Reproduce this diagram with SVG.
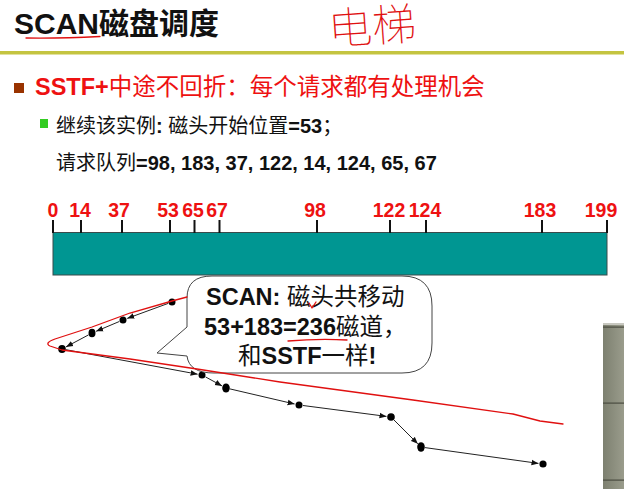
<svg xmlns="http://www.w3.org/2000/svg" width="624" height="489" viewBox="0 0 624 489">
<defs>
<marker id="arr" viewBox="0 0 10 10" refX="10" refY="5" markerWidth="7" markerHeight="7" orient="auto" markerUnits="userSpaceOnUse">
<path d="M0,1 L10,5 L0,9 Z" fill="#111"/>
</marker>
<linearGradient id="photo" x1="0" y1="0" x2="1" y2="0">
<stop offset="0" stop-color="#7d8070"/>
<stop offset="1" stop-color="#9a9c8c"/>
</linearGradient>
</defs>
<style>
text{font-family:"Liberation Sans","Noto Sans CJK SC",sans-serif}
.b{font-weight:bold}
.tick{stroke:#111;stroke-width:2}
.lbl{fill:#ee1111;font-weight:bold;font-size:19.5px;text-anchor:middle}
.seg{stroke:#222;stroke-width:1;fill:none;marker-end:url(#arr)}
.dot{fill:#000}
.red{stroke:#e01010;stroke-width:1.3;fill:none;stroke-linecap:round;stroke-linejoin:round}
</style>
<rect width="624" height="489" fill="#ffffff"/>

<g id="title">
<text x="14" y="34" font-size="30" class="b" fill="#111">SCAN磁盘调度</text>
<path class="red" d="M26,38 Q60,38.5 100,36.5"/>
<text x="328" y="42" font-size="44" fill="#e01010" font-weight="100" transform="rotate(-4 375 25)">电梯</text>
</g>
<rect x="0" y="51" width="624" height="3.5" fill="#c4c440"/>

<g id="bullet1">
<rect x="14" y="83" width="10" height="10" fill="#993300"/>
<text x="35" y="95" font-size="23.5" fill="#ee1111"><tspan class="b">SSTF+</tspan>中途不回折：每个请求都有处理机会</text>
</g>
<g id="bullet2">
<rect x="40" y="119" width="8" height="9" fill="#33cc22"/>
<text x="56" y="133" font-size="20" fill="#111">继续该实例<tspan class="b">: </tspan>磁头开始位置<tspan class="b">=53</tspan>；</text>
<text x="56" y="170" font-size="20" fill="#111">请求队列<tspan class="b">=98, 183, 37, 122, 14, 124, 65, 67</tspan></text>
</g>

<g id="disk">
<rect x="53" y="232.5" width="554" height="42.5" fill="#009692" stroke="#3a4a4a" stroke-width="1"/>
<line class="tick" x1="53" y1="220" x2="53" y2="233"/>
<line class="tick" x1="81" y1="220" x2="81" y2="233"/>
<line class="tick" x1="122" y1="220" x2="122" y2="233"/>
<line class="tick" x1="170" y1="220" x2="170" y2="233"/>
<line class="tick" x1="194.5" y1="220" x2="194.5" y2="233"/>
<line class="tick" x1="219.5" y1="220" x2="219.5" y2="233"/>
<line class="tick" x1="317" y1="220" x2="317" y2="233"/>
<line class="tick" x1="390" y1="220" x2="390" y2="233"/>
<line class="tick" x1="426" y1="220" x2="426" y2="233"/>
<line class="tick" x1="542" y1="220" x2="542" y2="233"/>
<line class="tick" x1="607" y1="220" x2="607" y2="233"/>
<text class="lbl" x="53" y="217">0</text>
<text class="lbl" x="80" y="217">14</text>
<text class="lbl" x="119" y="217">37</text>
<text class="lbl" x="168" y="217">53</text>
<text class="lbl" x="193" y="217">65</text>
<text class="lbl" x="217" y="217">67</text>
<text class="lbl" x="315" y="217">98</text>
<text class="lbl" x="389" y="217">122</text>
<text class="lbl" x="425" y="217">124</text>
<text class="lbl" x="540" y="217">183</text>
<text class="lbl" x="601" y="217">199</text>
</g>

<g id="photo">
<rect x="603" y="323" width="21" height="166" fill="url(#photo)"/>
<rect x="603" y="323" width="21" height="2" fill="#c8c8c0"/>
<rect x="603" y="326.5" width="21" height="1.2" fill="#4a4c40"/>
<rect x="603" y="402.5" width="21" height="1.2" fill="#4a4c40"/>
<rect x="603" y="479.5" width="21" height="1.2" fill="#4a4c40"/>
</g>

<g id="connectors">
<line class="seg" x1="168.2" y1="303.4" x2="127.2" y2="318.4"/>
<line class="seg" x1="119.3" y1="321.5" x2="96.1" y2="331.3"/>
<line class="seg" x1="88.5" y1="334.9" x2="66.0" y2="346.9"/>
<line class="seg" x1="65.9" y1="349.7" x2="197.6" y2="374.2"/>
<line class="seg" x1="205.5" y1="376.9" x2="222.0" y2="385.9"/>
<line class="seg" x1="229.9" y1="388.9" x2="294.6" y2="404.0"/>
<line class="seg" x1="303" y1="405.5" x2="386.5" y2="416.4"/>
<line class="seg" x1="393.8" y1="419.8" x2="417.8" y2="443.8"/>
<line class="seg" x1="425" y1="447.6" x2="538.5" y2="463.4"/>
</g>

<g id="points">
<circle class="dot" cx="172" cy="302" r="3.5"/>
<circle class="dot" cx="123" cy="320" r="3.5"/>
<ellipse class="dot" cx="92" cy="333" rx="3.5" ry="4.3"/>
<ellipse class="dot" cx="62" cy="349" rx="3.8" ry="4"/>
<circle class="dot" cx="202" cy="375" r="3.5"/>
<ellipse class="dot" cx="226" cy="388" rx="3.8" ry="4.5"/>
<circle class="dot" cx="299" cy="405" r="3.5"/>
<circle class="dot" cx="391" cy="417" r="3.8"/>
<ellipse class="dot" cx="421" cy="447" rx="3.8" ry="4.8"/>
<circle class="dot" cx="543" cy="464" r="3.6"/>
</g>

<g id="callout">
<path d="M212,276 H402 Q432,276 432,306 V343 Q432,373 402,373 H214 Q189,373 187,356 L157,353 L187,327 V298 Q187,276 212,276 Z" fill="#ffffff" stroke="#444" stroke-width="1"/>
<text x="206" y="305" font-size="23.5" fill="#111"><tspan class="b">SCAN:</tspan> 磁头共移动</text>
<text x="204" y="335" font-size="23.5" fill="#111"><tspan class="b">53+183=236</tspan>磁道，</text>
<text x="238" y="364" font-size="23.5" fill="#111">和<tspan class="b">SSTF</tspan>一样<tspan class="b">!</tspan></text>
<path class="red" d="M288,341 Q318,338.5 347,340"/>
<path class="red" d="M309,303 L312,308 L316,302"/>
</g>

<g id="scribble">
<path class="red" d="M187,297 L172,301 L130,313 L92,327 L55,339 Q44,343 50,346 L62,350 L130,359 L197,369 L280,382 L413,400 L513,414 L540,421 L563,424"/>
</g>
</svg>
